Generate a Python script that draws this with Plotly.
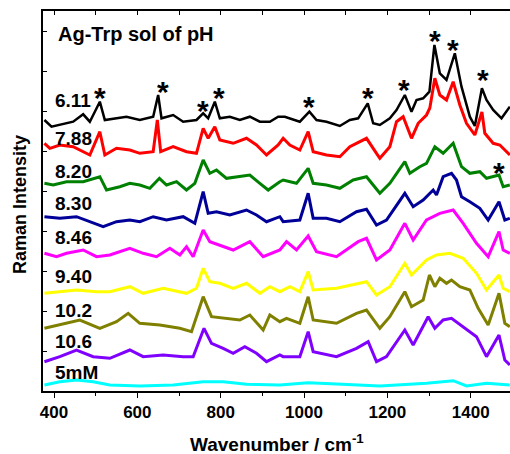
import plotly.graph_objects as go

# ---- data (wavenumber in cm-1, stacked intensity in plot units) ----
x_611 = [377, 394, 446, 470, 486, 510, 522, 574, 606, 638, 650, 658, 686, 710, 742, 758, 770, 786, 798, 822, 846, 870, 894, 918, 938, 954, 990, 1013, 1030, 1054, 1086, 1110, 1130, 1153, 1166, 1182, 1206, 1222, 1242, 1258, 1270, 1286, 1301, 1313, 1326, 1342, 1362, 1378, 1398, 1410, 1427, 1438, 1454, 1474, 1494]
y_611 = [271, 264.3, 269.3, 276.7, 269.3, 289.3, 271, 274.3, 271, 274.3, 296, 272.7, 276, 269.3, 271, 277.7, 272.7, 289.3, 272.7, 274.3, 271, 274.3, 269.3, 269.3, 274.3, 274.3, 269.3, 279.3, 271, 269.3, 265, 271, 272.7, 287.7, 267.7, 266, 272.7, 281, 296, 279.3, 291, 292.7, 299.3, 346, 317.7, 311, 337.7, 304.3, 274.3, 265, 302.7, 291, 281, 272.7, 284.3]

x_788 = [377, 390, 414, 446, 486, 510, 522, 550, 582, 606, 638, 648, 656, 686, 718, 742, 758, 770, 786, 798, 830, 862, 886, 910, 938, 950, 966, 990, 1010, 1022, 1054, 1086, 1110, 1150, 1174, 1182, 1206, 1222, 1238, 1258, 1274, 1294, 1302, 1314, 1326, 1342, 1358, 1374, 1390, 1410, 1427, 1434, 1454, 1470, 1494]
y_788 = [247.7, 242.7, 246, 244.3, 236, 259.3, 236, 242.7, 241, 237.7, 239.3, 271, 239.3, 244.3, 239.3, 237.7, 262.7, 252.7, 264.3, 251, 247.7, 252.7, 246, 236, 246, 252.7, 246, 241, 259.3, 239.3, 236, 234.3, 244.3, 252.7, 237.7, 232.7, 244.3, 269.3, 274.3, 252.7, 267.7, 276, 283, 312.7, 296, 291, 309.3, 286, 267.7, 256, 279, 257.7, 247.7, 246, 236]

x_820 = [377, 398, 430, 470, 510, 526, 558, 582, 606, 630, 653, 670, 694, 718, 738, 758, 774, 790, 814, 846, 870, 894, 914, 942, 950, 982, 1010, 1022, 1054, 1086, 1118, 1150, 1182, 1206, 1242, 1254, 1278, 1294, 1314, 1334, 1358, 1378, 1398, 1422, 1438, 1468, 1478, 1494]
y_820 = [207.7, 206, 209.3, 209.3, 214.3, 201, 204.3, 207.7, 206, 202.7, 212.7, 206, 209.3, 201, 207.7, 231, 217.7, 221, 212.7, 214.3, 216, 207.7, 201, 209.3, 211, 207.7, 222.7, 207.7, 206, 202.7, 211, 214.3, 197.7, 207.7, 229.3, 217.7, 224.3, 227.7, 244.3, 237.7, 247.7, 224.3, 217.7, 219.3, 212.7, 216, 204.3, 206]

x_830 = [377, 414, 454, 486, 518, 550, 582, 606, 638, 670, 710, 738, 758, 770, 790, 822, 862, 886, 910, 942, 950, 990, 1010, 1022, 1054, 1086, 1126, 1150, 1174, 1198, 1242, 1262, 1286, 1310, 1318, 1334, 1354, 1366, 1378, 1398, 1422, 1442, 1468, 1482, 1494]
y_830 = [174.3, 172.7, 174.3, 169.3, 164.3, 169.3, 171, 169.3, 174.3, 171, 174.3, 167.7, 199.3, 177.7, 179.3, 176, 181, 176, 169.3, 174.3, 169.3, 171, 197.7, 172.7, 172.7, 169.3, 179.3, 181.7, 166, 171, 197.7, 184.3, 191, 201, 196, 214.3, 217.7, 211, 194.3, 189.3, 182.7, 171, 189.3, 171, 172.7]

x_846 = [377, 406, 430, 470, 502, 534, 582, 614, 646, 678, 702, 718, 734, 758, 774, 798, 830, 870, 902, 942, 958, 982, 1010, 1030, 1078, 1130, 1150, 1174, 1206, 1242, 1262, 1294, 1326, 1358, 1382, 1414, 1442, 1468, 1478, 1494]
y_846 = [137.7, 134.3, 137.7, 141, 134.3, 136, 142.7, 137.7, 134.3, 142.7, 136, 144.3, 134.3, 161, 149.3, 146, 141, 149.3, 134.3, 141, 149.3, 141, 155, 139.3, 134.3, 149.3, 152.7, 131, 141, 167.7, 151, 171, 177.7, 181, 167.7, 147.7, 134.3, 159.3, 141, 137.7]

x_940 = [377, 414, 454, 502, 534, 582, 614, 662, 718, 742, 758, 774, 798, 830, 862, 894, 918, 942, 966, 990, 1010, 1022, 1078, 1150, 1174, 1206, 1242, 1258, 1294, 1318, 1350, 1382, 1414, 1438, 1468, 1478, 1494]
y_940 = [97.7, 99.3, 101, 99.3, 99.3, 104.3, 97.7, 102.7, 97.7, 102.7, 122.7, 109.3, 107.7, 102.7, 107.7, 97.7, 104.3, 99.3, 104.3, 99.3, 119.3, 101, 102.7, 109.3, 96, 104.3, 127.7, 116, 131, 136, 137.7, 132.7, 117.7, 101, 116, 102.7, 99.3]

x_102 = [377, 414, 462, 510, 550, 578, 606, 654, 702, 730, 758, 778, 806, 846, 870, 902, 918, 942, 958, 990, 1010, 1022, 1078, 1126, 1150, 1182, 1206, 1242, 1258, 1286, 1301, 1314, 1326, 1342, 1354, 1374, 1398, 1418, 1442, 1468, 1482, 1494]
y_102 = [62.7, 66, 71, 62.7, 69.3, 77.7, 67.7, 66, 62.7, 59.3, 94.3, 74.3, 72.7, 71, 76, 61, 76, 69.3, 72.7, 67.7, 94.3, 71, 67.7, 77.7, 81, 62.7, 74.3, 99.3, 84.3, 91, 116, 104.3, 112.7, 107.7, 111, 104.3, 101, 82.7, 66, 97.7, 67.7, 64.3]

x_106 = [377, 414, 454, 494, 534, 582, 614, 662, 710, 734, 760, 778, 806, 830, 858, 886, 910, 942, 950, 990, 1010, 1022, 1078, 1126, 1154, 1174, 1198, 1242, 1262, 1298, 1314, 1334, 1354, 1382, 1414, 1438, 1468, 1482, 1494]
y_106 = [29.3, 34.3, 41, 34.3, 32.7, 41, 34.3, 36, 34.3, 34.3, 62.7, 47.7, 42.7, 37.7, 44.3, 37.7, 29.3, 36, 34.3, 34.3, 59.3, 39.3, 34.3, 42.7, 49.3, 29.3, 34.3, 61, 46, 74.3, 62.7, 71, 72.7, 64.3, 54.3, 34.3, 56, 31, 26]

x_5mM = [377, 414, 454, 494, 534, 606, 686, 758, 806, 862, 942, 1010, 1078, 1182, 1294, 1358, 1390, 1438, 1494]
y_5mM = [6, 9.3, 11, 9.3, 6, 5, 6, 9.3, 9.3, 6.7, 6, 8.3, 7, 5, 7.7, 10.3, 5, 7.7, 6]

series_x = [x_611, x_788, x_820, x_830, x_846, x_940, x_102, x_106, x_5mM]
series_y = [y_611, y_788, y_820, y_830, y_846, y_940, y_102, y_106, y_5mM]
labels = ["6.11", "7.88", "8.20", "8.30", "8.46", "9.40", "10.2", "10.6", "5mM"]
label_y = [291, 253, 219.3, 188, 154, 115, 80.3, 49.3, 18.7]
colors = ["#000000", "#FF0000", "#008000", "#000099", "#FF00FF", "#FFFF00", "#808000", "#8000FF", "#00FFFF"]
widths = [2.5, 3, 3, 3, 3, 3, 3, 3, 3]

star_x = [510, 661, 758, 796, 1013, 1153, 1241, 1314, 1357, 1430, 1469]
star_y = [300, 306, 286.7, 299.3, 291, 299.3, 307.7, 357, 347.7, 317.7, 224.3]

title_text = "Ag-Trp sol of pH"
x_range = [373.6, 1494.4]
y_range = [0, 380]

FONT = "Arial, Liberation Sans, sans-serif"

fig = go.Figure()
for xs, ys, c, w, name in zip(series_x, series_y, colors, widths, labels):
    fig.add_trace(go.Scatter(x=xs, y=ys, mode="lines", name=name,
                             line=dict(color=c, width=w), showlegend=False,
                             hoverinfo="skip"))

# invisible trace to anchor the top axis
fig.add_trace(go.Scatter(x=x_range, y=y_range, xaxis="x2", mode="lines",
                         line=dict(width=0), showlegend=False, hoverinfo="skip"))

ann = []
for lab, ly in zip(labels, label_y):
    ann.append(dict(x=398, y=ly, xref="x", yref="y", text=lab, showarrow=False,
                    xanchor="left", yanchor="middle",
                    font=dict(family=FONT, size=19, color="black", weight="bold")))
for sx, sy in zip(star_x, star_y):
    ann.append(dict(x=sx, y=sy, xref="x", yref="y", text="*", showarrow=False,
                    xanchor="center", yanchor="middle", yshift=-6,
                    font=dict(family=FONT, size=30, color="black", weight="bold")))
ann.append(dict(x=405, y=357, xref="x", yref="y", text=title_text, showarrow=False,
                xanchor="left", yanchor="middle",
                font=dict(family=FONT, size=20, color="black", weight="bold")))
ann.append(dict(x=-0.049, y=0.4895, xref="paper", yref="paper", text="Raman Intensity",
                showarrow=False, textangle=-90, xanchor="center", yanchor="middle",
                font=dict(family=FONT, size=18, color="black", weight="bold")))
ann.append(dict(x=0.502, y=-0.137, xref="paper", yref="paper",
                text="Wavenumber / cm<sup>-1</sup>", showarrow=False,
                xanchor="center", yanchor="middle",
                font=dict(family=FONT, size=19, color="black", weight="bold")))

fig.update_layout(
    width=510, height=454,
    margin=dict(l=43, r=0, t=11, b=63, autoexpand=False),
    paper_bgcolor="white", plot_bgcolor="white",
    annotations=ann,
    xaxis=dict(range=x_range, showgrid=False, zeroline=False, automargin=False,
               showline=True, linecolor="black", linewidth=1.5, mirror=True,
               ticks="outside", ticklen=5, tickwidth=1.2, tickcolor="black",
               tick0=400, dtick=200,
               minor=dict(ticks="outside", ticklen=3, tickwidth=1, dtick=100, tick0=400, tickcolor="black"),
               tickfont=dict(family=FONT, size=17, color="black", weight="bold")),
    xaxis2=dict(range=x_range, overlaying="x", side="top", showgrid=False, zeroline=False,
                automargin=False,
                ticks="inside", ticklen=4, tickwidth=1, tickcolor="black",
                tick0=400, dtick=100, showticklabels=False, showline=False),
    yaxis=dict(range=y_range, showgrid=False, zeroline=False, automargin=False,
               showline=True, linecolor="black", linewidth=1.5, mirror=True,
               ticks="inside", ticklen=4, tickwidth=1, tickcolor="black",
               tick0=0, dtick=40, showticklabels=False),
)

# remove the page's default body margin so the figure fills the window exactly
fig.write_html("out.html", config={"displayModeBar": False},
               post_script="document.body.style.margin='0';document.body.style.overflow='hidden';")
